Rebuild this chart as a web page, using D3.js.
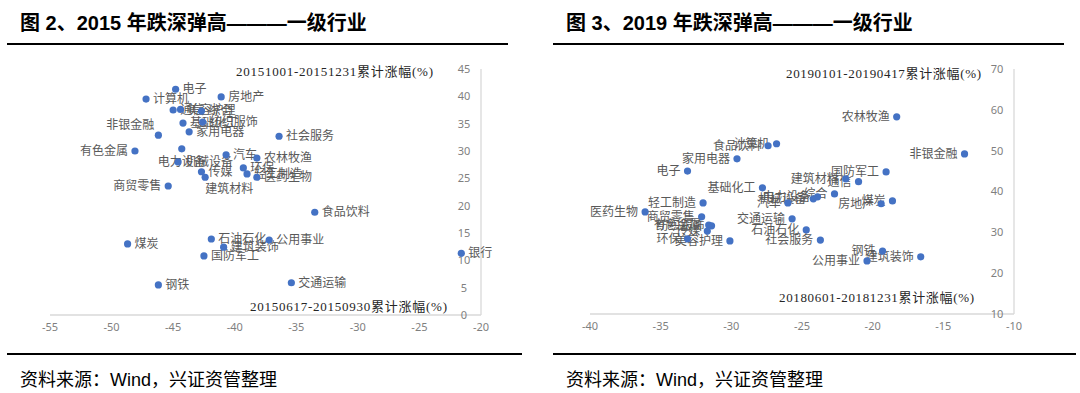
<!DOCTYPE html>
<html lang="zh">
<head>
<meta charset="UTF-8">
<title>跌深弹高——一级行业</title>
<style>
  html, body { margin: 0; padding: 0; background: #fff; }
  svg { display: block; font-family: "Noto Sans CJK SC", "Noto Sans", sans-serif; }
  .head { font-family: "Liberation Sans", "Noto Sans CJK SC", sans-serif; }
  .tick-label { font-family: "Noto Sans", "Noto Sans CJK SC", sans-serif; font-size: 11px; fill: #7f7f7f; }
  .pt-label { font-size: 12px; fill: #595959; }
  .ax-title { font-family: "Liberation Serif", "Noto Sans CJK SC", serif; font-size: 13px; fill: #262626; }
</style>
</head>
<body>
<svg id="chart" width="1080" height="393"></svg>
<script src="https://d3js.org/d3.v7.min.js"></script>
<script>
// ---- data: 2015 (x = 20150617-20150930, y = 20151001-20151231) ----
const names2015 = ["电子","计算机","房地产","通信","美容护理","综合","基础化工","纺织服饰","家用电器",
  "非银金融","有色金属","电力设备","机械设备","传媒","建筑材料","汽车","农林牧渔","环保","轻工制造",
  "医药生物","商贸零售","社会服务","食品饮料","煤炭","石油石化","公用事业","建筑装饰","国防军工",
  "交通运输","钢铁","银行"];
const x2015 = [-44.8,-47.2,-41.1,-45.0,-44.4,-42.7,-44.2,-42.6,-43.7,
  -46.2,-48.1,-44.3,-44.6,-42.7,-42.4,-40.7,-38.2,-39.3,-39.0,
  -38.2,-45.4,-36.4,-33.5,-48.7,-41.9,-37.2,-40.9,-42.5,
  -35.4,-46.2,-21.6];
const y2015 = [41.3,39.5,39.9,37.5,37.6,37.3,35.1,35.3,33.5,
  32.9,30.0,30.4,28.0,26.2,25.2,29.3,28.7,26.9,25.8,
  25.2,23.6,32.7,18.8,13.0,13.9,13.7,12.4,10.8,
  5.9,5.5,11.3];
const xTicks2015 = [-55,-50,-45,-40,-35,-30,-25,-20];
const yTicks2015 = [0,5,10,15,20,25,30,35,40,45];

// ---- data: 2019 (x = 20180601-20181231, y = 20190101-20190417) ----
const names2019 = ["农林牧渔","非银金融","计算机","食品饮料","家用电器","电子","基础化工","轻工制造",
  "医药生物","商贸零售","有色金属","纺织服饰","传媒","环保","美容护理","交通运输","石油石化",
  "社会服务","汽车","机械设备","电力设备","综合","建筑材料","通信","国防军工","房地产","煤炭",
  "钢铁","公用事业","建筑装饰"];
const x2019 = [-18.3,-13.5,-26.8,-27.4,-29.6,-33.1,-27.8,-32.0,
  -36.1,-32.1,-31.6,-31.4,-31.7,-33.1,-30.1,-25.7,-24.7,
  -23.7,-26.0,-24.2,-23.9,-22.7,-21.9,-21.0,-19.05,-19.4,-18.6,
  -19.3,-20.4,-16.6];
const y2019 = [58.3,49.2,51.7,51.2,48.0,45.0,40.9,37.2,
  35.0,33.8,31.8,31.6,30.3,28.4,27.9,33.3,30.6,
  28.1,37.2,38.2,38.7,39.4,43.1,42.4,44.8,37.0,37.7,
  25.4,23.0,24.0];
const xTicks2019 = [-40,-35,-30,-25,-20,-15,-10];
const yTicks2019 = [10,20,30,40,50,60,70];

// label placement (default right for 2015, left for 2019)
const side2015 = {"非银金融":"upLeft","有色金属":"left","商贸零售":"left","电力设备":"below","建筑材料":"belowRight"};

const svg = d3.select("#chart");

function panel(o) {
  const g = svg.append("g");
  const x = d3.scaleLinear().domain(o.xDomain).range(o.xRange);
  const y = d3.scaleLinear().domain(o.yDomain).range(o.yRange);

  // title + rules
  g.append("text").attr("class", "head").attr("x", o.titleX).attr("y", 30)
    .attr("font-size", 20).attr("font-weight", "bold").attr("fill", "#000")
    .text(o.title);
  g.append("line").attr("x1", o.ruleX[0]).attr("x2", o.ruleX[1]).attr("y1", 44).attr("y2", 44)
    .attr("stroke", "#000").attr("stroke-width", 2);
  g.append("line").attr("x1", o.ruleX[0]).attr("x2", o.ruleX[2]).attr("y1", 354).attr("y2", 354)
    .attr("stroke", "#000").attr("stroke-width", 2);
  g.append("text").attr("class", "head").attr("x", o.titleX).attr("y", 386)
    .attr("font-size", 18).attr("fill", "#000")
    .text("资料来源：Wind，兴证资管整理");

  // axes: x axis at domain min of y, y axis at domain max of x
  const y0 = y(o.yDomain[0]), xR = x(o.xDomain[1]);
  g.append("line").attr("x1", x(o.xDomain[0])).attr("x2", xR).attr("y1", y0).attr("y2", y0)
    .attr("stroke", "#d9d9d9").attr("stroke-width", 1.3);
  g.append("line").attr("x1", xR).attr("x2", xR).attr("y1", y(o.yDomain[1])).attr("y2", y0)
    .attr("stroke", "#d9d9d9").attr("stroke-width", 1.3);

  g.selectAll(".xt").data(o.xTicks).join("text").attr("class", "tick-label")
    .attr("x", d => x(d)).attr("y", y0 + 16).attr("text-anchor", "middle").text(d => d);
  g.selectAll(".yt").data(o.yTicks).join("text").attr("class", "tick-label")
    .attr("x", xR - 17).attr("y", d => y(d)).attr("dy", "0.35em").attr("text-anchor", "middle").text(d => d);

  // axis captions
  g.append("text").attr("class", "ax-title").attr("x", o.topCap[0]).attr("y", o.topCap[1])
    .attr("dy", "0.35em").attr("textLength", o.capLen).attr("lengthAdjust", "spacing").text(o.yName);
  g.append("text").attr("class", "ax-title").attr("x", o.botCap[0]).attr("y", o.botCap[1])
    .attr("dy", "0.35em").attr("textLength", o.capLen).attr("lengthAdjust", "spacing").text(o.xName);

  const pts = o.names.map((n, i) => ({ n, x: o.xs[i], y: o.ys[i] }));

  g.selectAll(".pt-label").data(pts).join("text").attr("class", "pt-label")
    .each(function (d) {
      const s = o.side[d.n] || o.defSide;
      const t = d3.select(this).text(d.n);
      const px = x(d.x), py = y(d.y);
      if (s === "left") t.attr("x", px - 7).attr("y", py).attr("dy", "0.35em").attr("text-anchor", "end");
      else if (s === "upLeft") t.attr("x", px - 4).attr("y", py - 10).attr("dy", "0.35em").attr("text-anchor", "end");
      else if (s === "below") t.attr("x", px).attr("y", py + 13).attr("dy", "0.35em").attr("text-anchor", "middle");
      else if (s === "belowRight") t.attr("x", px).attr("y", py + 12).attr("dy", "0.35em");
      else t.attr("x", px + 7).attr("y", py).attr("dy", "0.35em");
    });

  g.selectAll("circle").data(pts).join("circle")
    .attr("cx", d => x(d.x)).attr("cy", d => y(d.y)).attr("r", 3.6)
    .attr("fill", "#4472c4");
}

panel({
  title: "图 2、2015 年跌深弹高———一级行业", titleX: 20, ruleX: [7, 508, 522],
  xDomain: [-55, -20], xRange: [50, 481], yDomain: [0, 45], yRange: [315, 69],
  xTicks: xTicks2015, yTicks: yTicks2015,
  yName: "20151001-20151231累计涨幅(%)", xName: "20150617-20150930累计涨幅(%)",
  topCap: [236, 71], botCap: [250, 306], capLen: 197,
  names: names2015, xs: x2015, ys: y2015, side: side2015, defSide: "right"
});

panel({
  title: "图 3、2019 年跌深弹高———一级行业", titleX: 566, ruleX: [553, 1064, 1076],
  xDomain: [-40, -10], xRange: [590, 1014], yDomain: [10, 70], yRange: [314, 69],
  xTicks: xTicks2019, yTicks: yTicks2019,
  yName: "20190101-20190417累计涨幅(%)", xName: "20180601-20181231累计涨幅(%)",
  topCap: [786, 73], botCap: [779, 297], capLen: 195,
  names: names2019, xs: x2019, ys: y2019, side: {}, defSide: "left"
});
</script>
</body>
</html>
